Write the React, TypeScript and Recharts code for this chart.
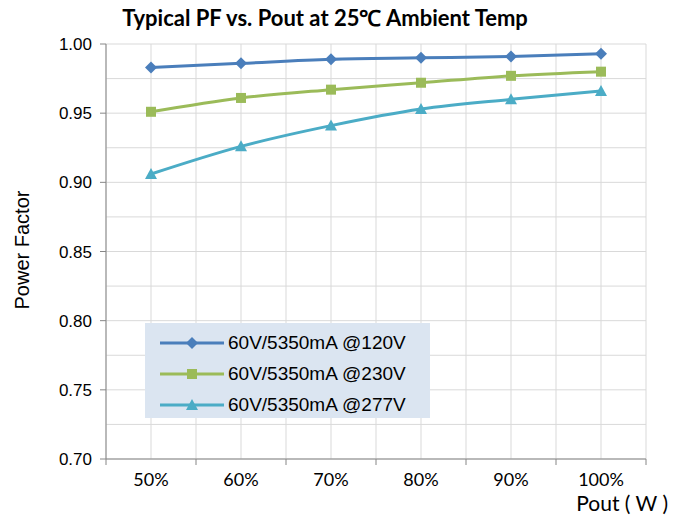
import { LineChart, Line, XAxis, YAxis, CartesianGrid, Legend } from 'recharts';

const categories = ['50%', '60%', '70%', '80%', '90%', '100%'];
const pf120 = [0.983, 0.986, 0.989, 0.99, 0.991, 0.993];
const pf230 = [0.951, 0.961, 0.967, 0.972, 0.977, 0.98];
const pf277 = [0.906, 0.926, 0.941, 0.953, 0.96, 0.966];
const yTicks = [0.7, 0.75, 0.8, 0.85, 0.9, 0.95, 1.0];

const series = [
  { key: 'v120', name: '60V/5350mA @120V', color: '#4a7ebb', shape: 'diamond' },
  { key: 'v230', name: '60V/5350mA @230V', color: '#9bbb59', shape: 'square' },
  { key: 'v277', name: '60V/5350mA @277V', color: '#4bacc6', shape: 'triangle' },
];

const data = categories.map((name, i) => ({
  name,
  v120: pf120[i],
  v230: pf230[i],
  v277: pf277[i],
}));

const W = 681;
const H = 518;
const PLOT_LEFT = 106;
const PLOT_RIGHT = 646;
const PLOT_TOP = 44;
const PLOT_BOTTOM = 459;
const HALF_BAND = (PLOT_RIGHT - PLOT_LEFT) / categories.length / 2;
const CALIBRI = 'Lato, "Open Sans", sans-serif';
const ARIAL = '"Liberation Sans", Arial, sans-serif';

const Marker = ({ cx, cy, shape, color }: any) => {
  if (cx == null || cy == null) return null;
  if (shape === 'diamond') {
    return <path d={`M${cx},${cy - 6} L${cx + 6},${cy} L${cx},${cy + 6} L${cx - 6},${cy} Z`} fill={color} />;
  }
  if (shape === 'square') {
    return <rect x={cx - 5} y={cy - 5} width={10} height={10} fill={color} />;
  }
  return <path d={`M${cx},${cy - 6} L${cx + 6},${cy + 5} L${cx - 6},${cy + 5} Z`} fill={color} />;
};

const XTick = ({ x, payload, index }: any) => (
  <g>
    <line x1={x - HALF_BAND} x2={x - HALF_BAND} y1={PLOT_BOTTOM} y2={PLOT_BOTTOM + 6} stroke="#868686" />
    {index === categories.length - 1 && (
      <line x1={x + HALF_BAND} x2={x + HALF_BAND} y1={PLOT_BOTTOM} y2={PLOT_BOTTOM + 6} stroke="#868686" />
    )}
    <text x={x} y={PLOT_BOTTOM + 27} textAnchor="middle" fontSize={18} fontFamily={CALIBRI} fill="#000">
      {payload.value}
    </text>
  </g>
);

const LegendBox = () => (
  <div style={{ background: '#dbe5f1', width: 285, height: 95, boxSizing: 'border-box', paddingTop: 4 }}>
    {series.map((s) => (
      <div key={s.key} style={{ display: 'flex', alignItems: 'center', height: 31 }}>
        <svg width={83} height={20} style={{ flex: 'none' }}>
          <line x1={15} x2={79} y1={10} y2={10} stroke={s.color} strokeWidth={3} />
          <Marker cx={47} cy={10} shape={s.shape} color={s.color} />
        </svg>
        <span style={{ fontFamily: ARIAL, fontSize: 19, color: '#000', whiteSpace: 'nowrap' }}>{s.name}</span>
      </div>
    ))}
  </div>
);

export default function App() {
  return (
    <div style={{ position: 'absolute', left: 0, top: 0, width: W, height: H, background: '#fff' }}>
      <LineChart
        width={W}
        height={H}
        data={data}
        margin={{ top: PLOT_TOP, right: W - PLOT_RIGHT, bottom: 0, left: 0 }}
      >
        <CartesianGrid
          stroke="#d9d9d9"
          horizontalCoordinatesGenerator={({ offset }: any) =>
            Array.from({ length: 13 }, (_, i) => offset.top + (i * offset.height) / 12)
          }
          verticalCoordinatesGenerator={({ offset }: any) =>
            Array.from({ length: 13 }, (_, i) => offset.left + (i * offset.width) / 12)
          }
        />
        <XAxis
          dataKey="name"
          height={H - PLOT_BOTTOM}
          padding={{ left: HALF_BAND, right: HALF_BAND }}
          axisLine={{ stroke: '#868686' }}
          tickLine={false}
          tick={<XTick />}
          interval={0}
        />
        <YAxis
          width={PLOT_LEFT}
          domain={[0.7, 1.0]}
          ticks={yTicks}
          tickFormatter={(v: number) => v.toFixed(2)}
          axisLine={{ stroke: '#868686' }}
          tickLine={{ stroke: '#868686' }}
          tickSize={6}
          tickMargin={8}
          tick={{ fontSize: 17, fontFamily: ARIAL, fill: '#000' }}
        />
        <Legend
          layout="vertical"
          align="center"
          verticalAlign="middle"
          content={<LegendBox />}
          wrapperStyle={{ position: 'absolute', left: 145, top: 323, width: 285, height: 95 }}
        />
        {series.map((s) => (
          <Line
            key={s.key}
            type="monotone"
            dataKey={s.key}
            name={s.name}
            stroke={s.color}
            strokeWidth={3}
            dot={(p: any) => <Marker key={`${s.key}-${p.index}`} cx={p.cx} cy={p.cy} shape={s.shape} color={s.color} />}
            activeDot={false}
            isAnimationActive={false}
          />
        ))}
        <text x={325} y={26} textAnchor="middle" fontSize={22} fontWeight="bold" fontFamily={CALIBRI} fill="#000">
          Typical PF vs. Pout at 25℃ Ambient Temp
        </text>
        <text
          x={0}
          y={0}
          transform="translate(29, 250) rotate(-90)"
          textAnchor="middle"
          fontSize={20}
          fontFamily={ARIAL}
          fill="#000"
        >
          Power Factor
        </text>
        <text x={668} y={511} textAnchor="end" fontSize={21} fontFamily={CALIBRI} fill="#000">
          Pout ( W )
        </text>
      </LineChart>
    </div>
  );
}
